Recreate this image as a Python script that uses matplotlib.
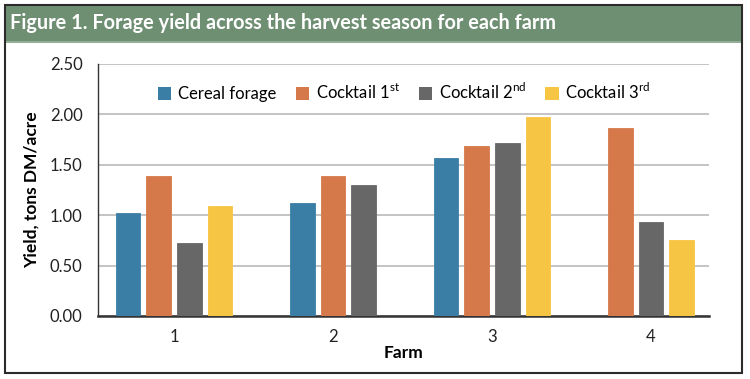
import matplotlib
matplotlib.use("Agg")
import matplotlib.pyplot as plt
from matplotlib.patches import Rectangle
import numpy as np

plt.rcParams['font.family'] = ['Lato', 'DejaVu Sans']
plt.rcParams['mathtext.fontset'] = 'custom'
plt.rcParams['mathtext.rm'] = 'Lato'

# data
farms = ['1', '2', '3', '4']
series_names = ['Cereal forage', r'Cocktail 1$^{\rm st}$',
                r'Cocktail 2$^{\rm nd}$', r'Cocktail 3$^{\rm rd}$']
cereal = [1.02, 1.12, 1.57, None]
cocktail1 = [1.39, 1.39, 1.69, 1.87]
cocktail2 = [0.72, 1.30, 1.72, 0.93]
cocktail3 = [1.09, None, 1.97, 0.75]
colors = ['#3a7ea6', '#d6794a', '#676767', '#f7c544']

W, H = 750, 379
fig = plt.figure(figsize=(W / 100, H / 100), dpi=100)

# outer frame and title banner
fig.patches.append(Rectangle((5 / W, 1 - 42 / H), 736 / W, 37 / H,
                             transform=fig.transFigure, facecolor='#6f8f73',
                             edgecolor='none', zorder=0))
fig.patches.append(Rectangle((5 / W, 1 - 42.5 / H), 736 / W, 2 / H,
                             transform=fig.transFigure, facecolor='#93ad96',
                             edgecolor='none', zorder=0))
fig.patches.append(Rectangle((4.5 / W, 1 - 372.5 / H), 737 / W, 368 / H,
                             transform=fig.transFigure, facecolor='none',
                             edgecolor='#2b2b2b', linewidth=1.5, zorder=1))
fig.text(10 / W, 1 - 23 / H,
         'Figure 1. Forage yield across the harvest season for each farm',
         color='white', fontsize=14.3, fontweight='bold', va='center', ha='left')

ax = fig.add_axes([98 / W, 1 - 316 / H, 611 / W, 252 / H])

all_series = [cereal, cocktail1, cocktail2, cocktail3]
bw = 0.155
step = 0.193
handles = []
for i in range(len(farms)):
    present = [k for k in range(4) if all_series[k][i] is not None]
    n = len(present)
    for j, k in enumerate(present):
        x = i + (j - (n - 1) / 2) * step
        ax.bar(x, all_series[k][i], width=bw, color=colors[k],
               edgecolor=colors[k], linewidth=0.6, zorder=3)

for k in range(4):
    handles.append(Rectangle((0, 0), 1, 1, facecolor=colors[k], edgecolor='none'))

ax.set_xlim(-0.478, 3.365)
ax.set_ylim(0, 2.5)
ax.set_yticks(np.arange(0, 2.51, 0.5))
ax.set_yticklabels(['%.2f' % v for v in np.arange(0, 2.51, 0.5)])
ax.set_xticks(range(len(farms)))
ax.set_xticklabels(farms)
ax.tick_params(axis='both', length=0, labelsize=12, colors='#222222')
ax.tick_params(axis='y', pad=11)
ax.tick_params(axis='x', pad=9)
ax.grid(axis='y', color='#bfbfbf', linewidth=1.3, zorder=0)
ax.set_axisbelow(True)
for s in ['top', 'right']:
    ax.spines[s].set_visible(False)
ax.spines['left'].set_color('#333333')
ax.spines['left'].set_linewidth(1.0)
ax.spines['bottom'].set_color('#333333')
ax.spines['bottom'].set_linewidth(1.8)

ax.set_xlabel('Farm', fontsize=12.5, fontweight='bold', labelpad=0)
fig.text(32 / W, 1 - 190 / H, 'Yield, tons DM/acre', rotation=90,
         fontsize=12.5, fontweight='bold', ha='center', va='center')

fig.legend(handles, series_names, loc='center left',
           bbox_to_anchor=(158 / W, 1 - 92 / H), ncol=4, frameon=False,
           fontsize=12, handlelength=0.8, handleheight=0.8,
           handletextpad=0.4, columnspacing=1.15, borderpad=0, borderaxespad=0)

fig.savefig('out.png', dpi=100)
